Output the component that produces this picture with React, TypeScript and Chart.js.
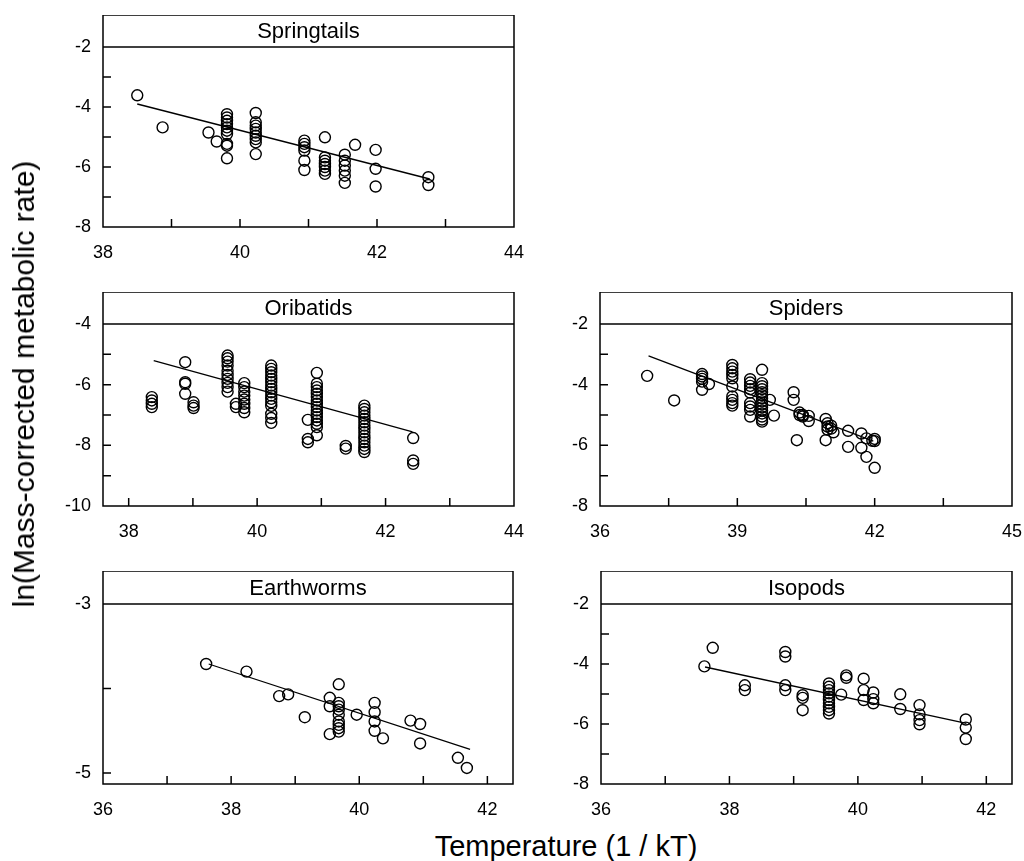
import React, { useEffect, useRef } from 'react';
import { Chart, registerables } from 'chart.js';

Chart.register(...registerables);

const FONT = '"Liberation Sans", Arial, Helvetica, sans-serif';

// ---------- Springtails ----------
const springX = [
  38.5, 38.87, 39.54, 39.66,
  39.81, 39.81, 39.81, 39.81, 39.81, 39.81, 39.81, 39.81, 39.81, 39.81,
  40.23, 40.23, 40.23, 40.23, 40.23, 40.23, 40.23, 40.23, 40.23,
  40.94, 40.94, 40.94, 40.94, 40.94, 40.94,
  41.24, 41.24, 41.24, 41.24, 41.24, 41.24, 41.24,
  41.53, 41.53, 41.53, 41.53, 41.53, 41.53,
  41.68,
  41.98, 41.98, 41.98,
  42.75, 42.75,
];
const springY = [
  -3.61, -4.68, -4.85, -5.15,
  -4.24, -4.35, -4.46, -4.57, -4.68, -4.79, -4.9, -5.23, -5.29, -5.71,
  -4.2, -4.51, -4.62, -4.73, -4.85, -4.96, -5.07, -5.18, -5.57,
  -5.12, -5.23, -5.34, -5.45, -5.79, -6.1,
  -5.01, -5.68, -5.79, -5.9, -6.0, -6.12, -6.23,
  -5.59, -5.79, -5.95, -6.12, -6.29, -6.53,
  -5.26,
  -5.43, -6.06, -6.65,
  -6.34, -6.6,
];
const springLineX = [38.5, 42.77];
const springLineY = [-3.9, -6.4];
const springXLabels = [38, 40, 42, 44];
const springXTicks = [39, 40, 41, 42, 43];
const springYLabels = [-8, -6, -4, -2];
const springYTicks = [-7, -6, -5, -4, -3];

// ---------- Oribatids ----------
const oribX = [
  38.36, 38.36, 38.36, 38.36,
  38.88, 38.88, 38.88, 38.88,
  39.01, 39.01, 39.01,
  39.54, 39.54, 39.54, 39.54, 39.54, 39.54, 39.54, 39.54, 39.54, 39.54,
  39.67, 39.67,
  39.8, 39.8, 39.8, 39.8, 39.8, 39.8, 39.8, 39.8,
  40.22, 40.22, 40.22, 40.22, 40.22, 40.22, 40.22, 40.22, 40.22, 40.22, 40.22, 40.22, 40.22, 40.22, 40.22, 40.22,
  40.79, 40.79, 40.79,
  40.93, 40.93, 40.93, 40.93, 40.93, 40.93, 40.93, 40.93, 40.93, 40.93, 40.93, 40.93, 40.93, 40.93, 40.93, 40.93,
  41.38, 41.38,
  41.67, 41.67, 41.67, 41.67, 41.67, 41.67, 41.67, 41.67, 41.67, 41.67, 41.67, 41.67, 41.67, 41.67, 41.67,
  42.43, 42.43, 42.43,
];
const oribY = [
  -6.41, -6.52, -6.63, -6.74,
  -5.26, -5.92, -5.97, -6.3,
  -6.58, -6.69, -6.77,
  -5.04, -5.13, -5.24, -5.37, -5.54, -5.68, -5.81, -5.94, -6.08, -6.23,
  -6.63, -6.74,
  -5.95, -6.08, -6.23, -6.36, -6.49, -6.63, -6.77, -6.91,
  -5.37, -5.48, -5.59, -5.7, -5.81, -5.92, -6.03, -6.14, -6.25, -6.36, -6.47, -6.58, -6.7, -6.96, -7.1, -7.26,
  -7.16, -7.79, -7.9,
  -5.61, -5.97, -6.08, -6.19, -6.3, -6.41, -6.52, -6.63, -6.74, -6.85, -6.96, -7.07, -7.18, -7.29, -7.4, -7.67,
  -8.02, -8.11,
  -6.69, -6.8, -6.91, -7.02, -7.13, -7.24, -7.35, -7.46, -7.57, -7.68, -7.79, -7.9, -8.01, -8.12, -8.22,
  -7.76, -8.5, -8.61,
];
const oribLineX = [38.39, 42.42];
const oribLineY = [-5.21, -7.56];
const oribXLabels = [38, 40, 42, 44];
const oribXTicks = [38, 39, 40, 41, 42, 43];
const oribYLabels = [-10, -8, -6, -4];
const oribYTicks = [-9, -8, -7, -6, -5];

// ---------- Spiders ----------
const spiderX = [
  37.03, 37.62,
  38.23, 38.23, 38.23, 38.23, 38.23, 38.38,
  38.89, 38.89, 38.89, 38.89, 38.89, 38.89, 38.89, 38.89, 38.89, 38.89,
  39.28, 39.28, 39.28, 39.28, 39.28, 39.28, 39.28, 39.28, 39.28,
  39.54, 39.54, 39.54, 39.54, 39.54, 39.54, 39.54, 39.54, 39.54, 39.54, 39.54, 39.54, 39.54, 39.54, 39.54,
  39.71, 39.8,
  40.23, 40.23, 40.3, 40.36, 40.36, 40.43, 40.43,
  40.56, 40.56,
  40.93, 40.93, 40.97, 40.97, 40.97, 41.05, 41.05, 41.1,
  41.42, 41.42, 41.71, 41.71, 41.82, 41.82,
  41.95, 42.0, 42.0, 42.0,
];
const spiderY = [
  -3.71, -4.52,
  -3.65, -3.73, -3.81, -3.9, -4.17, -3.98,
  -3.35, -3.46, -3.57, -3.68, -3.79, -4.06, -4.39, -4.5, -4.61, -4.69,
  -3.82, -3.93, -4.04, -4.15, -4.26, -4.61, -4.72, -4.83, -5.05,
  -3.51, -3.95, -4.05, -4.15, -4.25, -4.35, -4.45, -4.55, -4.65, -4.75, -4.85, -4.95, -5.05, -5.15, -5.22,
  -4.5, -5.02,
  -4.25, -4.5, -5.83, -4.92, -5.0, -5.05, -5.0,
  -5.03, -5.2,
  -5.13, -5.83, -5.27, -5.38, -5.48, -5.35, -5.45, -5.57,
  -5.52, -6.05, -5.61, -6.08, -5.77, -6.38,
  -5.85, -5.79, -5.86, -6.74,
];
const spiderLineX = [37.06, 41.97];
const spiderLineY = [-3.05, -5.86];
const spiderXLabels = [36, 39, 42, 45];
const spiderXTicks = [37.5, 39, 40.5, 42, 43.5];
const spiderYLabels = [-8, -6, -4, -2];
const spiderYTicks = [-7, -6, -5, -4, -3];

// ---------- Earthworms ----------
const wormX = [
  37.61, 38.24, 38.75, 38.89, 39.15,
  39.54, 39.54, 39.54,
  39.68, 39.68, 39.68, 39.68, 39.68, 39.68, 39.68, 39.68, 39.68,
  39.96,
  40.24, 40.24, 40.24, 40.24,
  40.37, 40.8, 40.95, 40.95, 41.54, 41.68,
];
const wormY = [
  -3.71, -3.8, -4.09, -4.07, -4.34,
  -4.11, -4.21, -4.54,
  -3.95, -4.17, -4.21, -4.25, -4.31, -4.39, -4.43, -4.47, -4.51,
  -4.31,
  -4.17, -4.28, -4.39, -4.5,
  -4.59, -4.38, -4.42, -4.65, -4.82, -4.94,
];
const wormLineX = [37.65, 41.73];
const wormLineY = [-3.71, -4.72];
const wormXLabels = [36, 38, 40, 42];
const wormXTicks = [37, 38, 39, 40, 41, 42];
const wormYLabels = [-5, -3];
const wormYTicks = [-5, -4];

// ---------- Isopods ----------
const isoX = [
  37.61, 37.74,
  38.24, 38.24,
  38.87, 38.87, 38.87, 38.87,
  39.14, 39.14, 39.14,
  39.55, 39.55, 39.55, 39.55, 39.55, 39.55, 39.55, 39.55, 39.55, 39.55,
  39.74, 39.82, 39.82,
  40.09, 40.09, 40.09,
  40.24, 40.24, 40.24,
  40.66, 40.66,
  40.96, 40.96, 40.96, 40.96,
  41.68, 41.68, 41.68,
];
const isoY = [
  -4.08, -3.46,
  -4.71, -4.87,
  -3.6, -3.75, -4.71, -4.87,
  -5.04, -5.13, -5.54,
  -4.65, -4.76, -4.87, -4.98, -5.09, -5.2, -5.31, -5.43, -5.54, -5.65,
  -5.02, -4.38, -4.46,
  -4.49, -4.87, -5.2,
  -4.95, -5.17, -5.31,
  -5.01, -5.5,
  -5.37, -5.68, -5.87, -6.01,
  -5.85, -6.12, -6.5,
];
const isoLineX = [37.62, 41.69];
const isoLineY = [-4.1, -5.98];
const isoXLabels = [36, 38, 40, 42];
const isoXTicks = [37, 38, 39, 40, 41, 42];
const isoYLabels = [-8, -6, -4, -2];
const isoYTicks = [-7, -6, -5, -4, -3];

type Box = { L: number; R: number; T: number; S: number; B: number };
type PanelProps = {
  title: string;
  xs: number[];
  ys: number[];
  lineX: number[];
  lineY: number[];
  xMin: number;
  xMax: number;
  yMin: number;
  yMax: number;
  xLabels: number[];
  xTicks: number[];
  yLabels: number[];
  yTicks: number[];
  box: Box;
};

const PAD_L = 70;
const PAD_R = 20;
const PAD_B = 45;

function Panel(p: PanelProps) {
  const ref = useRef<HTMLCanvasElement>(null);
  const w = p.box.R - p.box.L + PAD_L + PAD_R;
  const h = p.box.B - p.box.T + PAD_B;
  const stripH = p.box.S - p.box.T;

  useEffect(() => {
    if (!ref.current) return;
    const framePlugin = {
      id: 'panelFrame',
      afterDraw(chart: any) {
        const { ctx, chartArea: a, scales } = chart;
        ctx.save();
        ctx.strokeStyle = '#000';
        ctx.lineWidth = 1.5;
        ctx.strokeRect(a.left, a.top - stripH, a.right - a.left, a.bottom - a.top + stripH);
        ctx.beginPath();
        ctx.moveTo(a.left, a.top);
        ctx.lineTo(a.right, a.top);
        ctx.stroke();
        ctx.beginPath();
        for (const v of p.xTicks) {
          const x = scales.x.getPixelForValue(v);
          ctx.moveTo(x, a.bottom);
          ctx.lineTo(x, a.bottom - 8);
        }
        for (const v of p.yTicks) {
          const y = scales.y.getPixelForValue(v);
          ctx.moveTo(a.left, y);
          ctx.lineTo(a.left + 8, y);
        }
        ctx.stroke();
        ctx.fillStyle = '#000';
        ctx.font = `22px ${FONT}`;
        ctx.textAlign = 'center';
        ctx.textBaseline = 'middle';
        ctx.fillText(p.title, (a.left + a.right) / 2, a.top - stripH / 2 + 1);
        ctx.restore();
      },
    };

    const chart = new Chart(ref.current, {
      type: 'scatter',
      data: {
        datasets: [
          {
            data: p.lineX.map((x, i) => ({ x, y: p.lineY[i] })),
            showLine: true,
            borderColor: '#000',
            borderWidth: 1.3,
            pointRadius: 0,
            fill: false,
          },
          {
            data: p.xs.map((x, i) => ({ x, y: p.ys[i] })),
            showLine: false,
            pointRadius: 5.5,
            pointBorderWidth: 1.4,
            pointBorderColor: '#000',
            pointBackgroundColor: 'rgba(0,0,0,0)',
          },
        ],
      },
      options: {
        responsive: false,
        animation: false,
        devicePixelRatio: 1,
        layout: { padding: { left: 0, right: PAD_R, top: stripH, bottom: 0 } },
        plugins: {
          legend: { display: false },
          tooltip: { enabled: false },
          title: { display: false },
        },
        scales: {
          x: {
            type: 'linear',
            min: p.xMin,
            max: p.xMax,
            grid: { display: false, drawTicks: false },
            border: { display: false },
            ticks: {
              autoSkip: false,
              maxRotation: 0,
              padding: 15,
              color: '#000',
              font: { family: FONT, size: 18 },
              callback: (v: any) => String(v),
            },
            afterBuildTicks: (s: any) => {
              s.ticks = p.xLabels.map((v) => ({ value: v }));
            },
            afterFit: (s: any) => {
              s.height = PAD_B;
              s.paddingLeft = 0;
              s.paddingRight = 0;
            },
          },
          y: {
            type: 'linear',
            min: p.yMin,
            max: p.yMax,
            grid: { display: false, drawTicks: false },
            border: { display: false },
            ticks: {
              autoSkip: false,
              padding: 12,
              color: '#000',
              font: { family: FONT, size: 18 },
              callback: (v: any) => String(v),
            },
            afterBuildTicks: (s: any) => {
              s.ticks = p.yLabels.map((v) => ({ value: v }));
            },
            afterFit: (s: any) => {
              s.width = PAD_L;
              s.paddingTop = 0;
              s.paddingBottom = 0;
            },
          },
        },
      },
      plugins: [framePlugin],
    } as any);
    return () => chart.destroy();
  }, []);

  return (
    <canvas
      ref={ref}
      width={w}
      height={h}
      style={{ position: 'absolute', left: p.box.L - PAD_L, top: p.box.T, width: w, height: h }}
    />
  );
}

export default function App() {
  return (
    <div
      style={{
        position: 'fixed',
        left: 0,
        top: 0,
        width: 1024,
        height: 861,
        overflow: 'hidden',
        background: '#fff',
      }}
    >
      <Panel
        title="Springtails"
        xs={springX}
        ys={springY}
        lineX={springLineX}
        lineY={springLineY}
        xMin={38}
        xMax={44}
        yMin={-8}
        yMax={-2}
        xLabels={springXLabels}
        xTicks={springXTicks}
        yLabels={springYLabels}
        yTicks={springYTicks}
        box={{ L: 103, R: 514, T: 15, S: 47, B: 227 }}
      />
      <Panel
        title="Oribatids"
        xs={oribX}
        ys={oribY}
        lineX={oribLineX}
        lineY={oribLineY}
        xMin={37.6}
        xMax={44}
        yMin={-10}
        yMax={-4}
        xLabels={oribXLabels}
        xTicks={oribXTicks}
        yLabels={oribYLabels}
        yTicks={oribYTicks}
        box={{ L: 103, R: 514, T: 292, S: 324, B: 506 }}
      />
      <Panel
        title="Spiders"
        xs={spiderX}
        ys={spiderY}
        lineX={spiderLineX}
        lineY={spiderLineY}
        xMin={36}
        xMax={45}
        yMin={-8}
        yMax={-2}
        xLabels={spiderXLabels}
        xTicks={spiderXTicks}
        yLabels={spiderYLabels}
        yTicks={spiderYTicks}
        box={{ L: 600, R: 1012, T: 292, S: 324, B: 506 }}
      />
      <Panel
        title="Earthworms"
        xs={wormX}
        ys={wormY}
        lineX={wormLineX}
        lineY={wormLineY}
        xMin={36}
        xMax={42.4}
        yMin={-5.13}
        yMax={-3}
        xLabels={wormXLabels}
        xTicks={wormXTicks}
        yLabels={wormYLabels}
        yTicks={wormYTicks}
        box={{ L: 103, R: 513, T: 571, S: 604, B: 784 }}
      />
      <Panel
        title="Isopods"
        xs={isoX}
        ys={isoY}
        lineX={isoLineX}
        lineY={isoLineY}
        xMin={36}
        xMax={42.4}
        yMin={-8}
        yMax={-2}
        xLabels={isoXLabels}
        xTicks={isoXTicks}
        yLabels={isoYLabels}
        yTicks={isoYTicks}
        box={{ L: 601, R: 1012, T: 571, S: 604, B: 784 }}
      />
      <div
        style={{
          position: 'absolute',
          left: 24,
          top: 384,
          transform: 'translate(-50%, -50%) rotate(-90deg)',
          whiteSpace: 'nowrap',
          fontFamily: FONT,
          fontSize: 30,
          color: '#000',
          lineHeight: 1,
        }}
      >
        ln(Mass-corrected metabolic rate)
      </div>
      <div
        style={{
          position: 'absolute',
          left: 566,
          top: 846,
          transform: 'translate(-50%, -50%)',
          whiteSpace: 'nowrap',
          fontFamily: FONT,
          fontSize: 29,
          color: '#000',
          lineHeight: 1,
        }}
      >
        Temperature (1 / kT)
      </div>
    </div>
  );
}
